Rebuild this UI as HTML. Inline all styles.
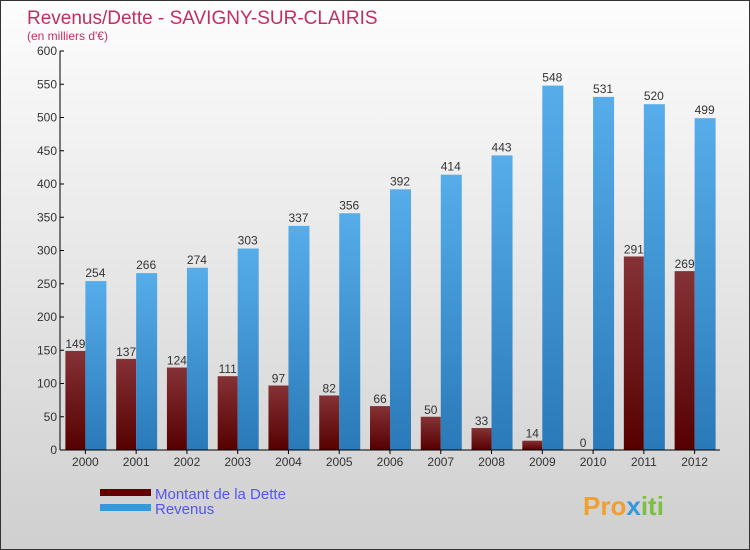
<!DOCTYPE html>
<html><head><meta charset="utf-8"><style>
body{margin:0}
svg{display:block;font-family:"Liberation Sans",sans-serif}
</style></head><body>
<svg width="750" height="550">
<defs>
<linearGradient id="bg" x1="0" y1="0" x2="0" y2="1"><stop offset="0" stop-color="#fdfdfd"/><stop offset="1" stop-color="#cfcfcf"/></linearGradient>
<linearGradient id="gd" x1="0" y1="0" x2="0" y2="1"><stop offset="0" stop-color="#853236"/><stop offset="1" stop-color="#560000"/></linearGradient>
<linearGradient id="gr" x1="0" y1="0" x2="0" y2="1"><stop offset="0" stop-color="#56adea"/><stop offset="1" stop-color="#2a79b8"/></linearGradient>
</defs>
<rect x="0.5" y="0.5" width="749" height="549" fill="url(#bg)" stroke="#333"/>
<text x="27" y="24" font-size="19" fill="#c0305f">Revenus/Dette - SAVIGNY-SUR-CLAIRIS</text>
<text x="27" y="40" font-size="12" fill="#c0305f">(en milliers d'€)</text>
<g id="plot"></g>
<g>
<rect x="100" y="489" width="51" height="7" fill="#600000"/>
<text x="155" y="499" font-size="15" fill="#5555ee">Montant de la Dette</text>
<rect x="100" y="504" width="51" height="7" fill="#3399dd"/>
<text x="155" y="514" font-size="15" fill="#5555ee">Revenus</text>
</g>
<text x="583" y="515" font-size="26" font-weight="bold" fill="#f0a030">Pro<tspan fill="#3399dd">x</tspan><tspan fill="#7ac043">iti</tspan></text>
</svg>
<script>
const years=["2000","2001","2002","2003","2004","2005","2006","2007","2008","2009","2010","2011","2012"];
const dette=[149,137,124,111,97,82,66,50,33,14,0,291,269];
const revenus=[254,266,274,303,337,356,392,414,443,548,531,520,499];
const ticks=[0,50,100,150,200,250,300,350,400,450,500,550,600];
const NS="http://www.w3.org/2000/svg";
const g=document.getElementById('plot');
const x0=60,x1=720,y0=450,y1=51,maxV=600;
const step=(x1-x0)/years.length;
const y=v=>y0-(v/maxV)*(y0-y1);
function mk(t,a){const e=document.createElementNS(NS,t);for(const k in a)e.setAttribute(k,a[k]);g.appendChild(e);return e;}
ticks.forEach(t=>{
  const l=mk('line',{x1:x0,x2:x0+4,y1:y(t),y2:y(t),stroke:'#000'});
  
  
  const tx=mk('text',{x:x0-3,y:y(t)+4,'font-size':12,'text-anchor':'end',fill:'#333'});
  tx.textContent=t;
  
  
});
years.forEach((yr,i)=>{
  const cx=x0+step*(i+0.5);
  const bd=mk('rect',{x:cx-20,y:y(dette[i]),width:20,height:y0-y(dette[i]),fill:'url(#gd)'});
  
  
  const br=mk('rect',{x:cx,y:y(revenus[i]),width:21,height:y0-y(revenus[i]),fill:'url(#gr)'});
  
  
  const ld=mk('text',{x:cx-10,y:y(dette[i])-3,'font-size':12,'text-anchor':'middle',fill:'#333'});
  ld.textContent=dette[i];
  
  
  const lr=mk('text',{x:cx+10,y:y(revenus[i])-4,'font-size':12,'text-anchor':'middle',fill:'#333'});
  lr.textContent=revenus[i];
  
  
  const xt=mk('line',{x1:cx,x2:cx,y1:y0,y2:y0+4,stroke:'#000'});
  
  
  const xl=mk('text',{x:cx,y:y0+16,'font-size':12,'text-anchor':'middle',fill:'#333'});
  xl.textContent=yr;
  
  
});
const ya=mk('line',{x1:x0,x2:x0,y1:y1,y2:y0,stroke:'#000'});


const xa=mk('line',{x1:x0,x2:x1,y1:y0,y2:y0,stroke:'#000'});


</script>
</body></html>
